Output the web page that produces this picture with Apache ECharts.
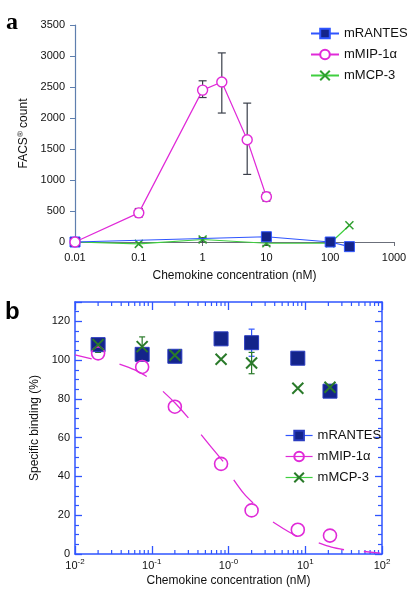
<!DOCTYPE html>
<html><head><meta charset="utf-8">
<script src="https://cdn.jsdelivr.net/npm/echarts@6/dist/echarts.min.js"></script>
<style>html,body{margin:0;padding:0;background:#fff}#c{width:410px;height:598px}</style>
</head><body><div id="c"></div>
<script>
// ---------- Panel a data ----------
const aRantesX = [0.01, 10, 100, 200];
const aRantesY = [0, 85, 0, -75];
const aMipX = [0.01, 0.1, 1, 2, 5, 10];
const aMipY = [0, 470, 2450, 2580, 1650, 730];
const aMipLo = [null, 405, 2330, 2080, 1090, 660];
const aMipHi = [null, 540, 2600, 3050, 2240, 800];
const aMcpX = [0.01, 0.1, 1, 10, 100, 200];
const aMcpY = [0, -30, 40, -20, -20, 270];
const aMcpLo = [null, null, 0, -55, -65, null];
const aMcpHi = [null, null, 70, 15, 20, null];
const aXLabels = ['0.01', '0.1', '1', '10', '100', '1000'];

// ---------- Panel b data ----------
const bX = [0.02, 0.075, 0.2, 0.8, 2, 8, 21];
const bRantes = [108, 103, 102, 111, 109, 101, 84];
const bRantesLo = [105, null, null, null, 102, null, null];
const bRantesHi = [111, null, null, null, 116, null, null];
const bMip = [103.5, 96.5, 76, 46.5, 22.5, 12.5, 9.5];
const bMcp = [108, 107, 102.5, 100.5, 98.5, 85.5, 86];
const bMcpLo = [104, 102, null, null, 93, null, null];
const bMcpHi = [110, 112, null, null, 104, null, null];
const bFitX = [0.01, 0.0165, null, 0.038, 0.06, 0.086, null, 0.14, 0.2, 0.30, null, 0.44, 0.6, 0.85, null, 1.17, 1.6, 2.09, null, 3.8, 5.5, 7.8, null, 15, 22, 32, null, 58, 95];
const bFitY = [102.7, 100.6, null, 98, 95, 91.6, null, 83.9, 78, 70.2, null, 61.6, 55, 47.8, null, 38.3, 31, 26.3, null, 16.5, 12.5, 9.1, null, 5.7, 3.5, 2.2, null, 1.3, 0.5];
const bExpLabels = {'-2': '-2', '-1': '-1', '0': '-0', '1': '1', '2': '2'};

const names = ['mRANTES', 'mMIP-1\u03b1', 'mMCP-3'];
const FONT = 'Liberation Sans';
const BLUE = '#2f55ff', NAVY = '#14248a', MAG = '#e02ad8', GREEN = '#3fcf3f', DGREEN = '#2a7a2a';
const XPATH = 'path://M0,0L10,10M10,0L0,10';

function pairs(xs, ys) { return xs.map((x, i) => (x == null || ys[i] == null) ? ['-', '-'] : [x, ys[i]]); }
function errData(xs, lo, hi) { const r = []; xs.forEach((x, i) => { if (lo[i] != null) r.push([x, lo[i], hi[i]]); }); return r; }
function errSeries(xi, yi, data, color, cap) {
  return {
    type: 'custom', xAxisIndex: xi, yAxisIndex: yi, data: data, silent: true, z: 1, clip: false,
    renderItem: function (params, api) {
      const x = api.value(0);
      const p1 = api.coord([x, api.value(1)]), p2 = api.coord([x, api.value(2)]);
      const st = { stroke: color, lineWidth: 1.2 };
      return { type: 'group', children: [
        { type: 'line', shape: { x1: p1[0], y1: p1[1], x2: p2[0], y2: p2[1] }, style: st },
        { type: 'line', shape: { x1: p1[0] - cap, y1: p1[1], x2: p1[0] + cap, y2: p1[1] }, style: st },
        { type: 'line', shape: { x1: p2[0] - cap, y1: p2[1], x2: p2[0] + cap, y2: p2[1] }, style: st }
      ] };
    }
  };
}
// minor ticks on log axis of panel b (bottom and top)
const minorTicks = [];
[-2, -1, 0, 1].forEach(k => { for (let m = 2; m <= 9; m++) minorTicks.push([m * Math.pow(10, k)]); });

const chart = echarts.init(document.getElementById('c'), null, { renderer: 'canvas' });
const option = {
  animation: false,
  textStyle: { fontFamily: FONT },
  graphic: [
    { type: 'text', left: 6, top: 11, style: { text: 'a', font: 'bold 24px "Liberation Serif"', fill: '#000' } },
    { type: 'text', left: 5, top: 300, style: { text: 'b', font: 'bold 24px "Liberation Sans"', fill: '#000' } }
  ],
  grid: [
    { left: 75, right: 16, top: 25, bottom: 356 },
    { left: 75, right: 28, top: 302, bottom: 44 }
  ],
  legend: [
    { orient: 'vertical', left: 305, top: 22, itemWidth: 28, itemHeight: 12, itemGap: 8,
      textStyle: { fontFamily: FONT, fontSize: 13, color: '#111' },
      data: [{ name: names[0] }, { name: names[1] }, { name: names[2] }] },
    { orient: 'vertical', left: 280, top: 424, itemWidth: 27, itemHeight: 12, itemGap: 8,
      textStyle: { fontFamily: FONT, fontSize: 13, color: '#111' },
      data: [
        { name: names[0] + ' ', lineStyle: { opacity: 1, color: BLUE, width: 1.2 } },
        { name: names[1] + ' ', lineStyle: { opacity: 1, color: MAG, width: 1.2 } },
        { name: names[2] + ' ', lineStyle: { opacity: 1, color: GREEN, width: 1.2 } }
      ] }
  ],
  xAxis: [
    { gridIndex: 0, type: 'log', min: 0.01, max: 1000, logBase: 10,
      axisLine: { onZero: false, lineStyle: { color: '#6b6f7a', width: 1 } },
      axisTick: { length: 4, lineStyle: { color: '#6b6f7a' } },
      splitLine: { show: false },
      axisLabel: { fontSize: 11, color: '#111', margin: 10,
        formatter: v => aXLabels[Math.round(Math.log10(v)) + 2] },
      name: 'Chemokine concentration (nM)', nameLocation: 'middle', nameGap: 28,
      nameTextStyle: { fontSize: 12, color: '#111' } },
    { gridIndex: 1, type: 'log', min: 0.01, max: 100, logBase: 10,
      axisLine: { onZero: false, lineStyle: { color: BLUE, width: 1.5 } },
      axisTick: { inside: true, length: 8, lineStyle: { color: BLUE, width: 1.3 } },
      splitLine: { show: false },
      axisLabel: { color: '#111', margin: 4,
        formatter: v => '{m|10}{s|' + bExpLabels[String(Math.round(Math.log10(v)))] + '}',
        rich: { m: { fontSize: 11, fontFamily: FONT, color: '#111' },
                s: { fontSize: 8, fontFamily: FONT, color: '#111', padding: [0, 0, 7, 0] } } },
      name: 'Chemokine concentration (nM)', nameLocation: 'middle', nameGap: 21,
      nameTextStyle: { fontSize: 12, color: '#111' } },
    { gridIndex: 1, type: 'log', min: 0.01, max: 100, logBase: 10, position: 'top',
      axisLine: { onZero: false, lineStyle: { color: BLUE, width: 1.5 } },
      axisTick: { inside: true, length: 8, lineStyle: { color: BLUE, width: 1.3 } },
      axisLabel: { show: false }, splitLine: { show: false } }
  ],
  yAxis: [
    { gridIndex: 0, type: 'value', min: 0, max: 3500, interval: 500,
      axisLine: { show: true, lineStyle: { color: '#5f7fae', width: 1.2 } },
      axisTick: { show: true, length: 5, lineStyle: { color: '#5f7fae' } },
      splitLine: { show: false },
      axisLabel: { fontSize: 11, color: '#111', margin: 10, formatter: v => String(v) },
      name: 'FACS{s|\u00ae} count', nameLocation: 'middle', nameGap: 44,
      nameTextStyle: { fontSize: 12, color: '#111',
        rich: { s: { fontSize: 8, color: '#111', padding: [0, 0, 6, 0] } } } },
    { gridIndex: 1, type: 'value', min: 0, max: 130, interval: 20,
      axisLine: { show: true, lineStyle: { color: BLUE, width: 1.5 } },
      axisTick: { show: true, inside: true, length: 7, lineStyle: { color: BLUE, width: 1.3 } },
      minorTick: { show: true, splitNumber: 4, length: 4, lineStyle: { color: BLUE, width: 1.2 } },
      splitLine: { show: false },
      axisLabel: { fontSize: 11, color: '#111', margin: 5, showMaxLabel: false },
      name: 'Specific binding (%)', nameLocation: 'middle', nameGap: 31,
      nameTextStyle: { fontSize: 12, color: '#111' } },
    { gridIndex: 1, type: 'value', min: 0, max: 130, interval: 20, position: 'right',
      axisLine: { show: true, lineStyle: { color: BLUE, width: 1.5 } },
      axisTick: { show: true, inside: true, length: 7, lineStyle: { color: BLUE, width: 1.3 } },
      minorTick: { show: true, splitNumber: 4, length: 4, lineStyle: { color: BLUE, width: 1.2 } },
      splitLine: { show: false }, axisLabel: { show: false } }
  ],
  series: [
    // ---- panel a ----
    errSeries(0, 0, errData(aMipX, aMipLo, aMipHi), '#3a3f4a', 4),
    errSeries(0, 0, errData(aMcpX, aMcpLo, aMcpHi), '#3a3f4a', 4),
    { name: names[2], type: 'line', xAxisIndex: 0, yAxisIndex: 0, data: pairs(aMcpX, aMcpY), clip: false,
      symbol: XPATH, symbolSize: 8, lineStyle: { color: GREEN, width: 1.2 },
      itemStyle: { color: 'rgba(0,0,0,0)', borderColor: '#2f9f2f', borderWidth: 1.5 }, z: 3 },
    { name: names[0], type: 'line', xAxisIndex: 0, yAxisIndex: 0, data: pairs(aRantesX, aRantesY), clip: false,
      symbol: 'rect', symbolSize: 10, lineStyle: { color: BLUE, width: 1.2 },
      itemStyle: { color: NAVY, borderColor: BLUE, borderWidth: 1 }, z: 4 },
    { name: names[1], type: 'line', xAxisIndex: 0, yAxisIndex: 0, data: pairs(aMipX, aMipY), clip: false,
      symbol: 'circle', symbolSize: 10, lineStyle: { color: MAG, width: 1.2 },
      itemStyle: { color: '#fff', borderColor: MAG, borderWidth: 1.4 }, z: 5 },
    // ---- panel b ----
    { type: 'custom', xAxisIndex: 1, yAxisIndex: 1, data: minorTicks, silent: true, clip: false,
      renderItem: function (params, api) {
        const x = api.value(0);
        const b = api.coord([x, 0]), t = api.coord([x, 130]);
        const st = { stroke: BLUE, lineWidth: 1.2 };
        return { type: 'group', children: [
          { type: 'line', shape: { x1: b[0], y1: b[1], x2: b[0], y2: b[1] - 4 }, style: st },
          { type: 'line', shape: { x1: t[0], y1: t[1], x2: t[0], y2: t[1] + 4 }, style: st }
        ] };
      } },
    { name: 'fit', type: 'line', xAxisIndex: 1, yAxisIndex: 1, data: pairs(bFitX, bFitY), connectNulls: false,
      symbol: 'none', lineStyle: { color: MAG, width: 1.3 }, z: 2, smooth: 0.3 },
    errSeries(1, 1, errData(bX, bRantesLo, bRantesHi), BLUE, 3),
    errSeries(1, 1, errData(bX, bMcpLo, bMcpHi), DGREEN, 3),
    { name: names[0] + ' ', type: 'line', xAxisIndex: 1, yAxisIndex: 1, data: pairs(bX, bRantes),
      symbol: 'rect', symbolSize: 14, lineStyle: { opacity: 0, color: BLUE },
      itemStyle: { color: NAVY, borderColor: '#2a3cc0', borderWidth: 1 }, z: 3 },
    { name: names[1] + ' ', type: 'line', xAxisIndex: 1, yAxisIndex: 1, data: pairs(bX, bMip),
      symbol: 'circle', symbolSize: 13, lineStyle: { opacity: 0, color: MAG },
      itemStyle: { color: 'rgba(255,255,255,0)', borderColor: MAG, borderWidth: 1.6 }, z: 4 },
    { name: names[2] + ' ', type: 'line', xAxisIndex: 1, yAxisIndex: 1, data: pairs(bX, bMcp),
      symbol: XPATH, symbolSize: 11, lineStyle: { opacity: 0, color: GREEN },
      itemStyle: { color: 'rgba(0,0,0,0)', borderColor: DGREEN, borderWidth: 2 }, z: 5 }
  ]
};
chart.setOption(option);
</script></body></html>
